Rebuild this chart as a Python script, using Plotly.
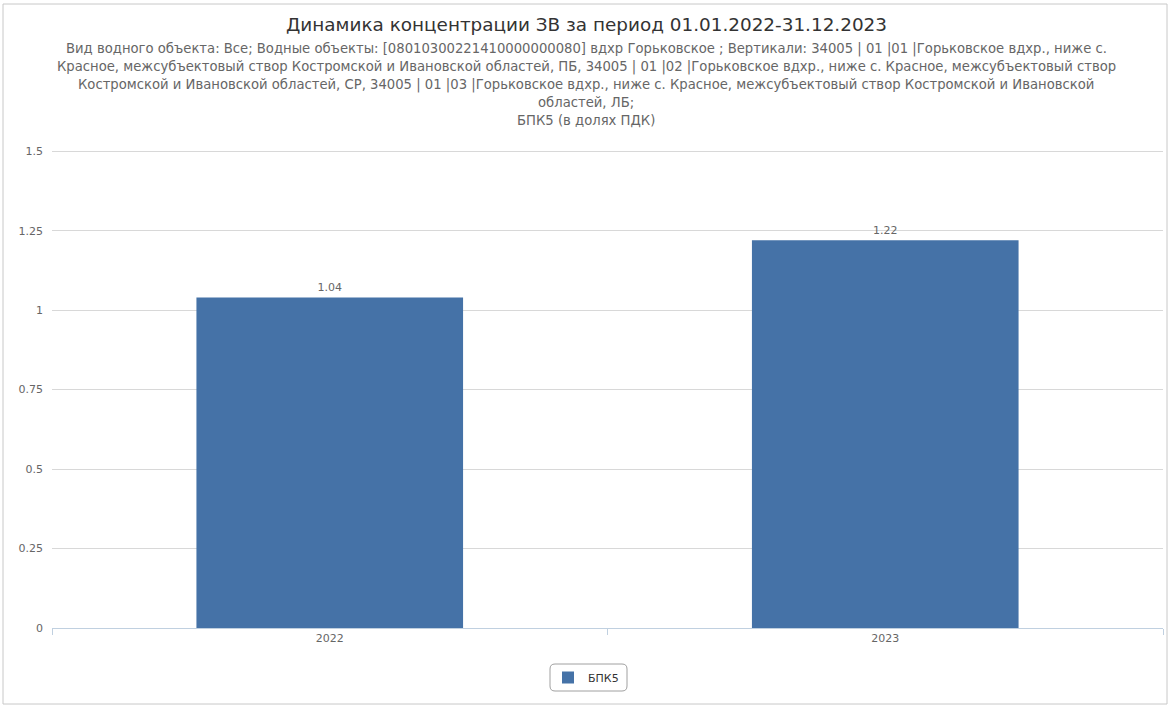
import plotly.graph_objects as go

# Data
years = ["2022", "2023"]
bpk5_values = [1.04, 1.22]
series_name = "БПК5"
y_ticks = [0, 0.25, 0.5, 0.75, 1, 1.25, 1.5]

title_text = "Динамика концентрации ЗВ за период 01.01.2022-31.12.2023"
subtitle_lines = [
    "Вид водного объекта: Все; Водные объекты: [08010300221410000000080] вдхр Горьковское ; Вертикали: 34005 | 01 |01 |Горьковское вдхр., ниже с.",
    "Красное, межсубъектовый створ Костромской и Ивановской областей, ПБ, 34005 | 01 |02 |Горьковское вдхр., ниже с. Красное, межсубъектовый створ",
    "Костромской и Ивановской областей, СР, 34005 | 01 |03 |Горьковское вдхр., ниже с. Красное, межсубъектовый створ Костромской и Ивановской",
    "областей, ЛБ;",
    "БПК5 (в долях ПДК)",
]

W, H = 1172, 707
L, R, T, B = 52, 9, 150, 79
PW, PH = W - L - R, H - T - B
FONT = "DejaVu Sans"


def px(x):
    return (x - L) / PW


def py(y):
    return (H - B - y) / PH


fig = go.Figure()
fig.add_trace(go.Bar(
    x=years,
    y=bpk5_values,
    name=series_name,
    width=0.48,
    marker=dict(color="#4572A7", line=dict(width=0)),
    text=[f"{v:.2f}" for v in bpk5_values],
    textposition="outside",
    textfont=dict(family=FONT, size=11, color="#666666"),
    cliponaxis=False,
))

annotations = [dict(
    text=title_text, x=px(W / 2), y=py(25), xref="paper", yref="paper",
    xanchor="center", yanchor="middle", showarrow=False,
    font=dict(family=FONT, size=18.4, color="#333333"),
)]
for i, line in enumerate(subtitle_lines):
    annotations.append(dict(
        text=line, x=px(W / 2), y=py(49 + i * 17.8), xref="paper", yref="paper",
        xanchor="center", yanchor="middle", showarrow=False,
        font=dict(family=FONT, size=13.2, color="#666666"),
    ))

# Outer frame and rounded legend box
r = 5
lx0, lx1, ly0, ly1 = 550, 627, 664, 691
legend_path = (
    f"M {px(lx0 + r)} {py(ly0)} L {px(lx1 - r)} {py(ly0)} "
    f"Q {px(lx1)} {py(ly0)} {px(lx1)} {py(ly0 + r)} L {px(lx1)} {py(ly1 - r)} "
    f"Q {px(lx1)} {py(ly1)} {px(lx1 - r)} {py(ly1)} L {px(lx0 + r)} {py(ly1)} "
    f"Q {px(lx0)} {py(ly1)} {px(lx0)} {py(ly1 - r)} L {px(lx0)} {py(ly0 + r)} "
    f"Q {px(lx0)} {py(ly0)} {px(lx0 + r)} {py(ly0)} Z"
)
shapes = [
    dict(type="rect", xref="paper", yref="paper",
         x0=px(3), x1=px(1167), y0=py(4), y1=py(704),
         line=dict(color="#C8C8C8", width=1), layer="below"),
    dict(type="path", xref="paper", yref="paper", path=legend_path,
         line=dict(color="#A0A0A0", width=1)),
]

fig.update_layout(
    width=W, height=H,
    margin=dict(l=L, r=R, t=T, b=B, pad=0),
    paper_bgcolor="white", plot_bgcolor="white",
    font=dict(family=FONT, size=11, color="#666666"),
    showlegend=True,
    legend=dict(
        x=px(548), xanchor="left", y=py(677.5), yanchor="middle",
        orientation="h", bgcolor="rgba(0,0,0,0)", borderwidth=0,
        font=dict(family=FONT, size=11, color="#333333"),
        itemsizing="constant",
    ),
    annotations=annotations,
    shapes=shapes,
    xaxis=dict(
        type="category", range=[-0.5, 1.5],
        showgrid=False, showline=True, linecolor="#C0D0E0", linewidth=1,
        ticks="outside", tickson="boundaries", ticklen=6, tickcolor="#C0D0E0",
        tickfont=dict(family=FONT, size=11, color="#666666"),
        fixedrange=True,
    ),
    yaxis=dict(
        range=[0, 1.504], tickvals=y_ticks,
        ticktext=[f"{v:g}" for v in y_ticks],
        showgrid=True, gridcolor="#D8D8D8", gridwidth=1,
        zeroline=False, showline=False, ticks="",
        ticklabelstandoff=8,
        tickfont=dict(family=FONT, size=11, color="#666666"),
        fixedrange=True,
    ),
    bargap=0.52,
)

fig.write_html("out.html")
